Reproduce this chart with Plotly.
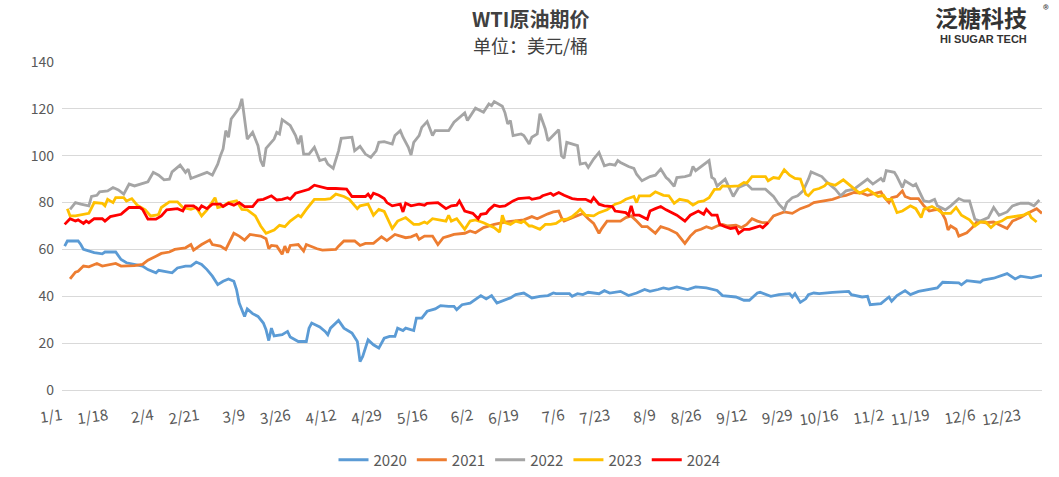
import pandas as pd
import plotly.graph_objects as go

# ---------------- data (day offset from Jan 1 on a common calendar, price USD/bbl) ----------------
day_2020 = [1,2,6,7,8,12,15,16,20,22,24,27,30,32,35,36,38,41,43,46,48,50,52,54,56,58,60,62,64,65,66,68,69,71,73,75,76,77,78,79,82,84,85,88,91,92,93,96,98,99,100,103,105,108,110,111,112,114,116,118,120,122,124,125,127,128,131,132,134,136,139,141,144,146,147,149,152,154,156,158,160,162,165,167,169,172,175,178,181,183,184,189,190,192,194,196,200,202,204,208,211,214,217,219,222,224,226,229,233,236,240,244,246,251,254,256,259,260,264,267,271,272,273,275,277,278,280,282,287,293,294,298,300,301,305,306,308,309,311,314,316,319,323,326,328,331,334,335,337,342,343,347,349,352,355,357,361,365]
val_2020 = [61.4,63.6,63.6,62.1,60,58.6,58.1,58.9,58.9,55.7,54.3,53.6,52.9,51.4,50,51.1,50.7,50,52.1,52.9,52.9,54.6,53.6,51.4,48.6,45,46.4,47.4,46.4,42.9,37.1,31.4,34.6,32.6,31.4,28.6,25.7,21.1,26.4,23.1,23.6,25,22.6,20.7,20.7,26.4,28.6,26.9,25,23.6,26.4,29.7,26.4,24.3,20.7,12.1,14.3,21.4,19.3,17.9,22.1,22.9,22.9,26.4,25.4,26.4,25.4,30.7,30.7,33.6,34.6,36,35.7,35.7,34.3,36.4,37.1,38.6,40.3,38.9,40.3,37.1,38.6,39.3,40.7,41.4,39.3,40,40.3,41.4,41.1,41.1,40,41.1,40.7,41.7,41.1,42.4,41.4,42.1,40.3,41.4,42.9,42.1,42.9,43.6,43.1,44,42.9,44,43.6,42.5,40.3,39.7,38.3,38.3,41.4,41.7,40,40.7,41.1,39.7,41.1,37.4,38.9,40.7,41.4,41.1,41.7,42.1,40.7,39.7,40,36.4,36.9,37.8,39.7,37.9,40.3,42.4,40.7,42.1,42.9,43.6,46,46,45.7,44.9,46.7,46,46.9,47.7,48.6,49.7,47.4,48.6,47.9,48.9]

day_2021 = [3,5,6,8,10,12,13,15,17,20,22,27,30,32,35,37,40,42,46,48,49,52,55,56,59,61,64,66,68,70,74,76,77,78,80,82,83,84,85,88,90,91,95,97,102,103,105,109,111,113,116,119,121,124,128,130,132,133,135,138,140,142,144,146,150,152,154,157,161,165,168,172,175,177,181,183,185,186,187,190,192,194,196,198,200,201,203,208,210,212,214,216,218,221,223,226,229,232,234,236,238,240,242,244,246,248,251,253,255,257,259,261,263,265,269,272,275,278,280,284,287,290,292,295,298,300,303,305,306,308,309,311,313,314,316,319,321,323,325,327,329,330,331,333,334,337,339,341,344,347,350,352,354,357,359,362,363,365]
val_2021 = [47.4,50.3,50.7,52.9,52.6,53.6,54,52.9,53.3,54,52.9,53.1,53.6,55.4,57.1,58.3,58.9,60,60.7,62.1,59.7,62.1,64,62.1,61.4,60,66.9,65.7,64,66.4,65.7,64.6,60.3,61.7,61.4,57.9,61.4,58.6,61.7,62.1,59.3,62.1,60.3,59.7,60,61.4,63.6,63.6,61.7,62.6,62.6,65.4,63.8,66.4,65,65.4,66.4,64.3,65.7,65.7,62.1,65,65.7,66.4,66.9,67.9,67.1,69.3,70.7,71.7,72.1,72.6,74,73.1,75.2,76,76.4,73.6,72.1,73.6,74.6,75.4,73.1,71.1,66.9,68.9,72.1,72.1,73.6,74.3,72.1,69.7,69.7,66.9,69.7,68.6,66.9,62.6,65.7,67.9,68.6,69.7,68.9,70,70.7,70,70.3,69.3,70.7,73.1,72.1,71.4,71.4,74.3,76,75.4,77.4,78.6,80,80.7,81.4,82.6,83.1,84.3,84,83.1,84,84.6,82.6,80,82.1,82.6,85,82.6,81.7,81.7,78.6,76.4,76.9,77.1,72.9,68.3,70,68.6,65.7,67.1,69.3,72.1,71.4,71.7,70,68.9,72.1,73.6,75,76.9,77.4,75.4]

day_2022 = [3,5,7,10,11,13,14,17,19,21,23,25,27,30,32,34,36,38,40,41,44,46,47,48,51,54,56,58,59,60,61,62,63,64,66,67,68,69,71,73,74,75,76,79,80,81,82,84,85,87,88,89,90,92,94,96,98,99,101,103,104,108,109,111,113,115,117,118,120,123,124,126,127,129,130,131,133,134,136,138,139,142,144,146,150,151,154,157,159,160,161,164,165,166,167,168,171,172,174,175,177,178,180,181,183,185,186,187,188,192,193,195,196,198,200,202,204,206,207,208,211,213,214,216,219,221,223,225,226,228,229,232,234,235,236,238,241,242,243,244,247,250,252,255,257,262,264,265,267,269,270,272,274,276,278,279,281,283,285,288,290,292,295,298,300,302,305,306,307,310,311,313,314,317,318,321,323,325,326,329,331,334,336,338,340,342,345,347,349,352,354,357,360,362,364]
val_2022 = [77.1,80,79.3,78.6,82.6,83.1,84.6,85,86.4,85.4,83.6,87.9,87.1,88.3,88.9,92.9,91.7,89.7,90,93.1,96,92.9,94.3,90.3,91.7,92.9,91.7,96.4,100,102.9,110.7,107.9,115.7,117.4,120.3,124.3,116.4,107.1,110,104.3,97.9,95.4,103.1,107.1,110,109.3,115.4,113.6,112.9,108.6,105,108.6,100.7,100.7,103.6,97.9,98.6,96.4,94.6,102.1,107.4,107.9,102.1,104,100.7,99.3,102.1,105.7,106,105,108.6,110.7,107.9,103.6,100.3,105.7,108.6,112.1,114.6,108.6,110.7,110.7,110.7,114.3,118.3,115,120.3,118.6,122.1,121.4,123.1,121.1,118.3,113.6,115,108.6,109.3,108.6,105,107.9,109.3,117.9,111.4,106.4,108.6,111.1,100,98.9,105.7,104.3,96.4,96.9,95,98.6,101.4,95.7,96.4,96,97.9,97.1,95.4,94.6,92.1,89.3,91.1,91.7,94.3,90.7,89.7,86.9,90.7,91.1,91.7,95.4,93.6,95.4,97.9,90.7,90,87,90,82.6,86.4,87.9,85.7,85.7,83.6,82.6,79.3,76.9,80,82.1,82.9,85,90,93.1,92.1,91.1,88.6,85.7,82.9,85,85.7,88.3,90,87.9,90.3,88.9,93.6,92.9,91.1,86.4,89.3,87.1,87.9,80.7,80.3,81.4,78.6,76.9,78.6,81.7,80.7,80.7,72.9,72.1,73.6,77.9,74.6,76,78.6,79.7,79.7,78.6,81.1]

day_2023 = [2,3,5,10,12,15,16,17,19,20,23,24,26,28,31,33,35,36,37,40,43,45,48,50,52,54,57,58,60,62,65,67,69,72,74,76,79,81,83,85,88,89,91,94,98,100,102,105,107,110,111,114,116,118,120,121,123,125,128,131,133,135,136,138,140,143,144,145,147,150,152,154,157,161,163,164,165,167,169,171,172,174,175,178,180,182,184,186,188,190,192,193,195,198,200,203,206,208,210,213,214,215,219,221,224,226,228,230,233,235,237,239,241,243,245,246,249,252,254,255,257,259,262,263,265,267,269,271,273,275,277,278,280,282,284,285,288,291,293,295,297,300,302,304,306,307,309,311,313,316,318,320,321,324,326,328,331,333,335,338,340,342,344,346,348,350,352,356,358,360,361,363]
val_2023 = [77.4,74.3,74.3,75.4,80,79.7,78.6,81.4,80,82.1,82.1,80.7,81.7,78.9,76.9,74.3,74.6,75,77.9,80.3,80.3,77.9,77.1,77.9,74.3,76.9,82.1,77.9,78.5,80,80.7,77.1,76.9,74.3,70,66.9,68.3,70.3,69.7,72.1,74.6,73.9,77.1,81.4,81.4,81.7,83.6,82.6,81.4,77.4,78.6,79.3,74.6,77.1,76.2,73.6,68.9,72.1,73.6,70.7,70.7,71.7,71.1,73.1,72.6,72.1,74.6,72.1,73.1,68.6,72.1,72.6,71.4,69.3,67.4,74.6,71.4,70.7,72.1,71.4,72.1,70,70,68.6,70.7,70.7,71.1,72.6,72.9,74,76,77.1,74.6,74.3,75.7,76.9,79.3,80,81.4,82.6,80,82.9,82.9,84.6,83.1,82.9,79.7,81.4,80.7,78.9,80.3,80.7,82.1,85.6,85.7,87.1,86.9,87.1,88.6,88.3,91.1,91.1,91.1,89.3,90.7,90.3,94,91.7,90.3,90,83.6,82.9,85.4,86,87.1,88.3,87.4,89.7,87.9,86,84,85.7,84.3,82.6,83.1,81.4,81.4,75.7,76.4,78.6,77.4,73.6,77.1,78.3,77.1,75.4,75.4,77.9,74.6,72.6,70,71.7,71.7,69.3,71.4,72.1,73.6,74.3,74.6,75.7,73.6,71.7]

day_2024 = [1,3,5,6,8,9,10,12,15,16,18,22,23,25,29,30,32,35,37,39,43,45,46,49,51,52,54,56,59,60,62,64,66,68,71,73,75,78,80,82,84,85,87,89,92,94,96,99,102,105,106,108,110,113,114,115,116,118,120,121,123,126,127,128,130,133,135,136,140,143,145,147,148,150,153,155,156,158,159,161,163,165,168,170,174,175,178,179,182,183,185,187,190,192,195,197,198,200,202,205,206,210,211,212,213,215,218,219,221,223,225,227,229,232,234,237,239,240,242,244,245,247,249,251,252,254,256,258,260,261,263]
val_2024 = [70.7,73.1,72.1,72.6,71.1,72.1,71.4,73.1,73.1,72.1,74,75,76,77.9,77.9,77.1,72.9,72.9,74.3,76.9,77.4,76.4,78.6,78.6,76.9,78.6,77.4,79.3,79.3,78.3,79.7,78.9,80,78.3,78.3,81.1,81.4,82.9,81.1,81.4,82.1,81.4,84,84.6,85.7,87.4,86.9,86,86,86,85.7,82.6,82.6,82.6,83.6,82.1,84,83.1,81.7,80,78.6,79.3,76,79.7,78.6,79.3,78.9,79.7,80,77.4,78.6,78.9,80.7,76.4,75.4,73.1,75,75.4,76.9,78.9,78.3,78.6,80.7,81.7,82.1,81.4,82.1,82.9,84,83.1,84.3,83.1,81.7,81.4,81.4,80.3,82.1,79.3,78.6,78.3,76.4,75.7,74.6,78.6,74.6,74.6,72.9,76.4,77.4,78.3,76.9,75.7,74.6,72.1,74.6,76.4,75,77.1,74.6,74.6,70.7,69.7,68.9,69.3,66.9,68.6,68.6,69.3,70,69.3,71.4]

series = [
    ("2020", day_2020, val_2020, "#5B9BD5"),
    ("2021", day_2021, val_2021, "#ED7D31"),
    ("2022", day_2022, val_2022, "#A5A5A5"),
    ("2023", day_2023, val_2023, "#FFC000"),
    ("2024", day_2024, val_2024, "#FF0000"),
]

tick_labels = ["1/1","1/18","2/4","2/21","3/9","3/26","4/12","4/29","5/16","6/2","6/19",
               "7/6","7/23","8/9","8/26","9/12","9/29","10/16","11/2","11/19","12/6","12/23"]
y_ticks = [0, 20, 40, 60, 80, 100, 120, 140]

base = pd.Timestamp("2020-01-01")  # common (leap-year) calendar used for the category dates
tick_dates = [base + pd.Timedelta(days=17 * i) for i in range(len(tick_labels))]

fig = go.Figure()
for name, days, vals, color in series:
    xs = [base + pd.Timedelta(days=d) for d in days]
    fig.add_trace(go.Scatter(x=xs, y=vals, mode="lines", name=name,
                             line=dict(color=color, width=2.8)))

FONT = "Noto Sans CJK SC, Noto Sans, sans-serif"
fig.update_layout(
    width=1059, height=477,
    margin=dict(l=62, r=17, t=62, b=87, autoexpand=False),
    paper_bgcolor="white", plot_bgcolor="white",
    font=dict(family=FONT, color="#595959", size=14),
    showlegend=True,
    legend=dict(orientation="h", xref="container", x=0.5, xanchor="center",
                yref="container", y=(477 - 460) / 477, yanchor="middle",
                font=dict(size=15, color="#595959"), itemwidth=30, tracegroupgap=0),
    xaxis=dict(type="date", range=[base, base + pd.Timedelta(days=365)],
               tickvals=tick_dates, ticktext=tick_labels, tickangle=-8,
               showgrid=False, showline=True, linecolor="#D9D9D9", linewidth=1,
               ticks="", tickfont=dict(size=15, color="#595959"),
               ticklabelstandoff=11, automargin=False),
    yaxis=dict(range=[0, 140], tickvals=y_ticks, showgrid=True, gridcolor="#D9D9D9",
               gridwidth=1, zeroline=False, ticks="", tickfont=dict(size=14, color="#595959"),
               ticklabelstandoff=7, automargin=False),
)

# text blocks placed in page pixels (x, y = centre), converted to paper fractions
texts = [
    ("<b>WTI原油期价</b>", 530, 18, 20, "#404040", FONT),
    ("单位：美元/桶", 530, 45, 18, "#404040", FONT),
    ("<b>泛糖科技</b>", 981, 17, 23, "#333333", FONT),
    ("®", 1046, 8, 12, "#333333", FONT),
    ("<b>HI SUGAR TECH</b>", 983, 39, 11, "#333333", "Liberation Sans, Arial, sans-serif"),
]
for txt, px_x, px_y, size, color, fam in texts:
    fig.add_annotation(text=txt, xref="paper", yref="paper",
                       x=(px_x - 62) / (1059 - 62 - 17), y=(477 - 87 - px_y) / (477 - 62 - 87),
                       xanchor="center", yanchor="middle", showarrow=False,
                       font=dict(size=size, color=color, family=fam))

# the page is photographed edge to edge: remove the browser's default body margin
fig.write_html("out.html", config={"displayModeBar": False},
               post_script="document.body.style.margin='0';document.body.style.padding='0';")
